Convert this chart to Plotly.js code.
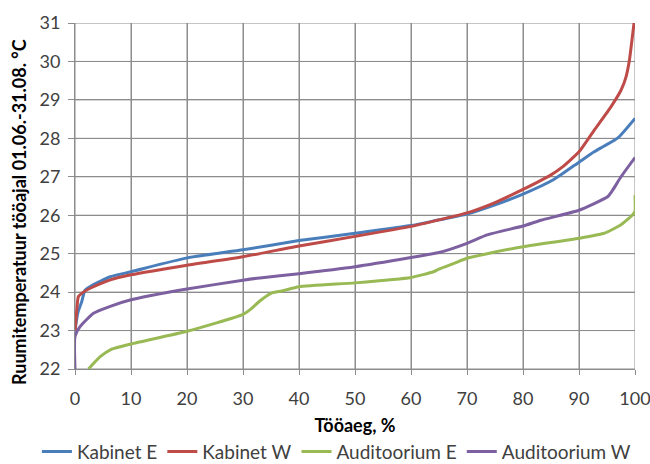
<!DOCTYPE html>
<html>
<head>
<meta charset="utf-8">
<script src="https://cdn.plot.ly/plotly-3.0.1.min.js"></script>
<style>html,body{margin:0;padding:0;background:#fff;}#chart{width:650px;height:464px;}</style>
</head>
<body>
<div id="chart"></div>
<script>
// Kabinet E (blue)
const kabEx = [0, 0.5, 1.2, 1.8, 3, 6.3, 10, 20, 30, 40, 50, 60, 65, 70, 75, 80, 85.5, 90, 92.7, 94.5, 97, 100];
const kabEy = [23.0, 23.46, 23.75, 24.05, 24.17, 24.4, 24.53, 24.89, 25.1, 25.34, 25.53, 25.73, 25.88, 26.03, 26.27, 26.55, 26.93, 27.38, 27.65, 27.8, 28.02, 28.52];
// Kabinet W (red)
const kabWx = [0, 0.3, 0.6, 1.5, 3, 6.3, 10, 20, 30, 40, 50, 60, 65, 70, 75, 80, 85, 87, 90, 92.7, 95.7, 97.5, 98.4, 99, 99.6, 100];
const kabWy = [23.0, 23.5, 23.88, 24.0, 24.12, 24.32, 24.45, 24.7, 24.92, 25.2, 25.45, 25.71, 25.88, 26.06, 26.33, 26.67, 27.05, 27.25, 27.65, 28.21, 28.82, 29.25, 29.6, 30.03, 30.73, 31.2];
// Auditoorium E (green)
const audEx = [2.4, 4.5, 6.3, 10, 20, 30, 31.5, 33, 35, 37, 40, 50, 60, 64, 65, 67.7, 70, 73.6, 80, 90, 94.5, 97.5, 99.5, 100, 100];
const audEy = [22.0, 22.32, 22.5, 22.65, 22.98, 23.42, 23.57, 23.77, 23.97, 24.03, 24.14, 24.24, 24.38, 24.53, 24.6, 24.75, 24.88, 25.0, 25.18, 25.4, 25.53, 25.75, 26.0, 26.1, 26.52];
// Auditoorium W (purple)
const audWx = [0, 0, 0.9, 3.3, 6.3, 10, 20, 30, 33, 40, 50, 60, 65, 70, 73.6, 80, 83.2, 90, 95.1, 96, 97.5, 100];
const audWy = [22.0, 22.85, 23.1, 23.45, 23.63, 23.8, 24.08, 24.31, 24.37, 24.48, 24.66, 24.9, 25.03, 25.27, 25.49, 25.72, 25.87, 26.13, 26.48, 26.65, 27.0, 27.5];

const seriesNames = ['Kabinet E', 'Kabinet W', 'Auditoorium E', 'Auditoorium W'];
const seriesColors = ['#4a7ebb', '#be4b48', '#98b954', '#7d60a0'];
const xTicks = [0, 10, 20, 30, 40, 50, 60, 70, 80, 90, 100];
const yTicks = [22, 23, 24, 25, 26, 27, 28, 29, 30, 31];

const xs = [kabEx, kabWx, audEx, audWx];
const ys = [kabEy, kabWy, audEy, audWy];
const traces = seriesNames.map((n, i) => ({
  x: xs[i], y: ys[i], name: n, type: 'scatter', mode: 'lines',
  line: {color: seriesColors[i], width: 3, shape: 'spline', smoothing: 0.5}
}));

const gridC = '#8c8c8c';
// grid lines drawn as shapes at the tick values (styling only)
const shapes = [];
xTicks.forEach(v => shapes.push({type: 'line', xref: 'x', yref: 'paper', x0: v, x1: v, y0: 0, y1: 1,
  line: {color: gridC, width: 1}, layer: 'below'}));
yTicks.forEach(v => shapes.push({type: 'line', xref: 'paper', yref: 'y', x0: 0, x1: 1, y0: v, y1: v,
  line: {color: gridC, width: 1}, layer: 'below'}));

const font = 'Lato, "Liberation Sans", Arial, sans-serif';
const layout = {
  width: 650, height: 464,
  margin: {l: 75, r: 15, t: 23, b: 95, autoexpand: false},
  paper_bgcolor: '#fff', plot_bgcolor: '#fff',
  font: {family: font, size: 18, color: '#404040'},
  showlegend: true,
  shapes: shapes,
  legend: {orientation: 'h', x: -0.068, xanchor: 'left', y: -0.239, yanchor: 'middle',
           font: {family: font, size: 19, color: '#404040'}, tracegroupgap: 0},
  xaxis: {
    range: [0, 100], tickvals: xTicks, ticktext: xTicks.map(String),
    showgrid: true, gridcolor: gridC, gridwidth: 1,
    showline: true, linecolor: gridC, linewidth: 1,
    ticks: 'outside', ticklen: 5, tickcolor: gridC, tickwidth: 1,
    ticklabelstandoff: 8, ticklabeloverflow: 'allow',
    zeroline: false, fixedrange: true, automargin: false,
    tickfont: {family: font, size: 18, color: '#404040'},
    title: {text: '<b>Tööaeg, %</b>', font: {family: font, size: 18, color: '#000'}, standoff: 11}
  },
  yaxis: {
    range: [22, 31], tickvals: yTicks, ticktext: yTicks.map(String),
    showgrid: true, gridcolor: gridC, gridwidth: 1,
    showline: true, linecolor: gridC, linewidth: 1,
    ticks: 'outside', ticklen: 6, tickcolor: gridC, tickwidth: 1,
    ticklabelstandoff: 4, ticklabeloverflow: 'allow',
    zeroline: false, fixedrange: true, automargin: false,
    tickfont: {family: font, size: 18, color: '#404040'},
    title: {text: '<b>Ruumitemperatuur tööajal 01.06.-31.08. °C</b>&nbsp;&nbsp;&nbsp;&nbsp;&nbsp;&nbsp;&nbsp;', font: {family: font, size: 18, color: '#000'}, standoff: 8}
  }
};
Plotly.newPlot('chart', traces, layout, {displayModeBar: false});
</script>
</body>
</html>
